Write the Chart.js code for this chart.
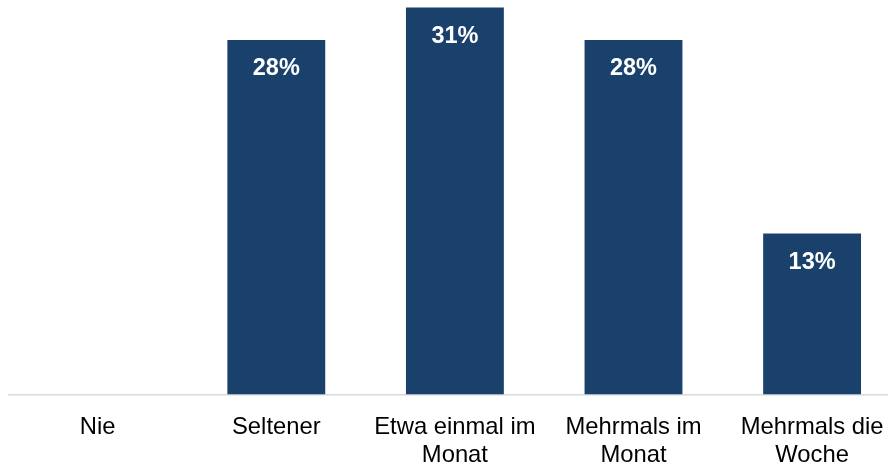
<!DOCTYPE html>
<html>
<head>
<meta charset="utf-8">
<script src="https://cdn.jsdelivr.net/npm/chart.js@4"></script>
<style>
  html, body { margin: 0; padding: 0; background: #fff; overflow: hidden; }
  #wrap { width: 902px; height: 462px; position: relative; }
</style>
</head>
<body>
<div id="wrap"><canvas id="freq"></canvas></div>
<script>
const categories = ["Nie", "Seltener", ["Etwa einmal im", "Monat"], ["Mehrmals im", "Monat"], ["Mehrmals die", "Woche"]];
const shares = [0, 28.4, 31.0, 28.4, 12.9];
const shareLabels = ["", "28%", "31%", "28%", "13%"];

const FONT = '"Liberation Sans", Arial, sans-serif';

// white percentage labels near the top of each bar
const barLabels = {
  id: "barLabels",
  afterDatasetsDraw(chart) {
    const ctx = chart.ctx;
    const meta = chart.getDatasetMeta(0);
    ctx.save();
    ctx.fillStyle = "#ffffff";
    ctx.font = "bold 23.5px " + FONT;
    ctx.textAlign = "center";
    ctx.textBaseline = "middle";
    meta.data.forEach((bar, i) => {
      if (!shareLabels[i]) return;
      ctx.fillText(shareLabels[i], bar.x, bar.y + 29);
    });
    ctx.restore();
  }
};

new Chart(document.getElementById("freq"), {
  type: "bar",
  data: {
    labels: categories,
    datasets: [{
      data: shares,
      backgroundColor: "#1a406c",
      borderWidth: 0,
      categoryPercentage: 1,
      barPercentage: 0.548
    }]
  },
  options: {
    responsive: true,
    maintainAspectRatio: false,
    animation: false,
    layout: { padding: { left: 8.4, right: 0.6, top: 0, bottom: 0 } },
    plugins: {
      legend: { display: false },
      tooltip: { enabled: false }
    },
    scales: {
      x: {
        grid: { display: false },
        border: { display: true, color: "#d9d9d9", width: 1.5 },
        ticks: {
          color: "#000",
          padding: 10.5,
          maxRotation: 0,
          autoSkip: false,
          font: { family: FONT, size: 23.8, lineHeight: 1.18 }
        },
        afterFit: scale => { scale.height = 67.5; }
      },
      y: {
        display: false,
        min: 0,
        max: 31.6
      }
    }
  },
  plugins: [barLabels]
});
</script>
</body>
</html>
